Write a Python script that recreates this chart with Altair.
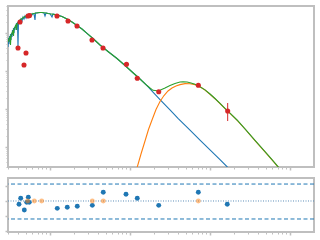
import math
import altair as alt
import pandas as pd

# ---- data (log10 wavelength [um], log10 flux [arb.]) ----
star_logw = [-0.525, -0.519, -0.5125, -0.506, -0.5, -0.494, -0.4875, -0.481, -0.475, -0.469,
             -0.4625, -0.456, -0.45, -0.444, -0.4375, -0.431, -0.425, -0.419, -0.4125, -0.406,
             -0.4, -0.394, -0.3875, -0.381, -0.375, -0.3625, -0.35, -0.3375, -0.325, -0.3125,
             -0.3, -0.2875, -0.275, -0.2625, -0.25, -0.2375, -0.225, -0.2125, -0.2, -0.1875,
             -0.181, -0.1625, -0.15, -0.125, -0.1, -0.075, -0.0625, -0.05, -0.025, 0.0,
             0.025, 0.0375, 0.0625, 0.0875, 0.1, 0.1125, 0.15, 0.2125, 0.275, 0.3375,
             0.4, 0.4625, 0.5375, 0.625, 0.725, 0.8375, 0.9375, 1.0375, 1.125, 1.2125,
             1.2875, 1.375, 1.5, 1.6, 1.75, 1.875, 2.0, 2.125, 2.2125, 2.275]
star_logf = [2.632, 2.868, 2.711, 2.921, 2.763, 2.974, 2.816, 3.0, 2.895, 3.079,
             2.947, 3.132, 3.0, 3.158, 3.079, 3.211, 3.132, 3.263, 3.184, 3.289,
             2.632, 3.316, 3.237, 3.342, 3.289, 3.368, 3.316, 3.421, 3.368, 3.447,
             3.395, 3.474, 3.421, 3.487, 3.447, 3.5, 3.474, 3.513, 3.5, 3.342,
             3.526, 3.526, 3.534, 3.539, 3.539, 3.526, 3.447, 3.526, 3.513, 3.505,
             3.421, 3.5, 3.487, 3.468, 3.421, 3.461, 3.434, 3.368, 3.289, 3.197,
             3.105, 2.992, 2.855, 2.684, 2.513, 2.329, 2.145, 1.955, 1.789, 1.618,
             1.447, 1.25, 0.979, 0.755, 0.447, 0.184, -0.074, -0.334, -0.518, -0.647]

total_logw = [-0.525, -0.5125, -0.5, -0.494, -0.4875, -0.475, -0.4625, -0.456, -0.45, -0.4375,
              -0.425, -0.419, -0.4125, -0.4, -0.3875, -0.375, -0.35, -0.325, -0.3, -0.275,
              -0.25, -0.225, -0.2, -0.175, -0.15, -0.125, -0.1, -0.075, -0.05, -0.025,
              0.0, 0.0375, 0.0625, 0.0875, 0.15, 0.2125, 0.275, 0.3375, 0.4, 0.4625,
              0.5375, 0.625, 0.725, 0.8375, 0.9375, 1.0375, 1.125, 1.2125, 1.25, 1.2875,
              1.3375, 1.375, 1.4375, 1.5, 1.5625, 1.625, 1.6625, 1.7125, 1.7625, 1.8125,
              1.85, 1.9375, 2.0, 2.0625, 2.125, 2.1875, 2.25, 2.3375, 2.4375, 2.5625,
              2.6875, 2.775, 2.85, 2.9125]
total_logf = [2.763, 2.842, 2.895, 2.684, 2.921, 3.0, 3.053, 2.921, 3.105, 3.158,
              3.211, 3.079, 3.237, 3.263, 3.316, 3.342, 3.382, 3.421, 3.447, 3.474,
              3.487, 3.5, 3.513, 3.526, 3.534, 3.539, 3.539, 3.532, 3.526, 3.513,
              3.505, 3.495, 3.484, 3.468, 3.434, 3.368, 3.289, 3.197, 3.105, 2.992,
              2.855, 2.684, 2.513, 2.329, 2.145, 1.955, 1.789, 1.618, 1.553, 1.492,
              1.479, 1.492, 1.553, 1.618, 1.671, 1.711, 1.718, 1.711, 1.684, 1.650,
              1.618, 1.505, 1.395, 1.276, 1.150, 1.018, 0.889, 0.711, 0.479, 0.176,
              -0.124, -0.334, -0.518, -0.671]

dust_logw = [1.075, 1.091, 1.1375, 1.1875, 1.231, 1.275, 1.325, 1.375, 1.425, 1.475,
             1.525, 1.575, 1.625, 1.6875, 1.75, 1.8125, 1.85, 1.9375, 2.0, 2.0625,
             2.125, 2.1875, 2.25, 2.3375, 2.4375, 2.5625, 2.6875, 2.775, 2.85, 2.9125]
dust_logf = [-0.658, -0.526, -0.184, 0.158, 0.461, 0.711, 0.987, 1.197, 1.355, 1.474,
             1.553, 1.605, 1.642, 1.668, 1.666, 1.642, 1.616, 1.5, 1.389, 1.271,
             1.145, 1.013, 0.884, 0.705, 0.474, 0.171, -0.129, -0.339, -0.523, -0.676]

obs_logw = [-0.4, -0.375, -0.325, -0.3, -0.275, -0.256, 0.0875, 0.225, 0.3375, 0.525,
            0.6625, 0.956, 1.091, 1.359, 1.854, 2.221]
obs_logf = [2.605, 3.289, 2.158, 2.474, 3.447, 3.461, 3.447, 3.316, 3.184, 2.816,
            2.605, 2.176, 1.808, 1.455, 1.624, 0.947]
obs_err_up = [0.0, 0.0, 0.0, 0.0, 0.0, 0.0, 0.0, 0.0, 0.0, 0.0, 0.0, 0.0, 0.0, 0.0, 0.0, 0.211]
obs_err_lo = [0.0, 0.0, 0.0, 0.0, 0.0, 0.0, 0.0, 0.0, 0.0, 0.0, 0.0, 0.0, 0.0, 0.0, 0.0, 0.263]

res_logw = [-0.3875, -0.366, -0.321, -0.291, -0.271, -0.259, 0.091, 0.216, 0.341, 0.529,
            0.666, 0.95, 1.091, 1.359, 1.854, 2.216]
res_val = [-0.22, 0.18, -0.6, -0.09, 0.25, -0.09, -0.49, -0.42, -0.35, -0.29,
           0.58, 0.45, 0.18, -0.29, 0.58, -0.22]
lim_logw = [-0.279, -0.196, -0.104, 0.529, 0.666, 1.854]
lim_val = [0.0, 0.0, 0.0, 0.0, 0.0, 0.0]
band_levels = [1.13, -1.2]
zero_level = [0.0]

# tick positions (log decades with minor ticks)
x_ticks = [n + math.log10(k) for n in range(-1, 4) for k in range(1, 10)
           if -0.53 <= n + math.log10(k) <= 3.3]
y_ticks = [n + math.log10(k) for n in range(-1, 4) for k in range(1, 10)
           if -0.53 <= n + math.log10(k) <= 3.72]
res_ticks = [1, 0, -1, -2]

GRAY = "#bfbfbf"
major_test = "abs(datum.value - round(datum.value)) < 0.001"


def axis(values):
    return alt.Axis(values=values, labels=False, title=None, grid=False, domain=False,
                    tickColor=GRAY,
                    tickSize={"condition": {"test": major_test, "value": 3}, "value": 2},
                    tickWidth={"condition": {"test": major_test, "value": 1.5}, "value": 1})


xs = alt.Scale(domain=[-0.525, 3.3], nice=False, zero=False)
ys = alt.Scale(domain=[-0.526, 3.711], nice=False, zero=False)
rs = alt.Scale(domain=[-2.067, 1.533], nice=False, zero=False)

X = alt.X("w:Q", scale=xs, axis=axis(x_ticks))
Y = alt.Y("f:Q", scale=ys, axis=axis(y_ticks))

star_df = pd.DataFrame({"w": star_logw, "f": star_logf})
total_df = pd.DataFrame({"w": total_logw, "f": total_logf})
dust_df = pd.DataFrame({"w": dust_logw, "f": dust_logf})
obs_df = pd.DataFrame({"w": obs_logw, "f": obs_logf,
                       "hi": [a + b for a, b in zip(obs_logf, obs_err_up)],
                       "lo": [a - b for a, b in zip(obs_logf, obs_err_lo)]})

star = alt.Chart(star_df).mark_line(color="#1f77b4", strokeWidth=1.1, clip=True).encode(x=X, y=Y)
dust = alt.Chart(dust_df).mark_line(color="#ff7f0e", strokeWidth=1.1, clip=True).encode(x=X, y=Y)
total = alt.Chart(total_df).mark_line(color="#2ca02c", strokeWidth=1.1, clip=True).encode(x=X, y=Y)
err = alt.Chart(obs_df).mark_rule(color="#d62728", strokeWidth=1).encode(
    x=X, y=alt.Y("hi:Q", scale=ys, axis=axis(y_ticks)), y2="lo:Q")
obs = alt.Chart(obs_df).mark_circle(color="#d62728", size=26, opacity=1).encode(x=X, y=Y)

top = alt.layer(star, dust, total, err, obs).properties(width=306, height=161)

RX = alt.X("w:Q", scale=xs, axis=axis(x_ticks))
RY = alt.Y("r:Q", scale=rs, axis=axis(res_ticks))

band = alt.Chart(pd.DataFrame({"r": band_levels})).mark_rule(
    color="#1f77b4", strokeDash=[4, 2.5], strokeWidth=1).encode(y=RY)
zero = alt.Chart(pd.DataFrame({"r": zero_level})).mark_rule(
    color="#5b8db8", strokeDash=[1, 1.5], strokeWidth=1).encode(y=RY)
res = alt.Chart(pd.DataFrame({"w": res_logw, "r": res_val})).mark_circle(
    color="#1f77b4", size=24, opacity=1).encode(x=RX, y=RY)
lim = alt.Chart(pd.DataFrame({"w": lim_logw, "r": lim_val})).mark_circle(
    color="#ff7f0e", size=24, opacity=0.5).encode(x=RX, y=RY)

bottom = alt.layer(band, zero, res, lim).properties(width=306, height=54)

chart = alt.vconcat(top, bottom, spacing=5).properties(
    padding={"left": 3, "top": 4, "right": 0, "bottom": 0},
    background="white",
).configure_view(stroke=GRAY, strokeWidth=2)

chart.save("out.html", embed_options={"renderer": "svg", "actions": False})
